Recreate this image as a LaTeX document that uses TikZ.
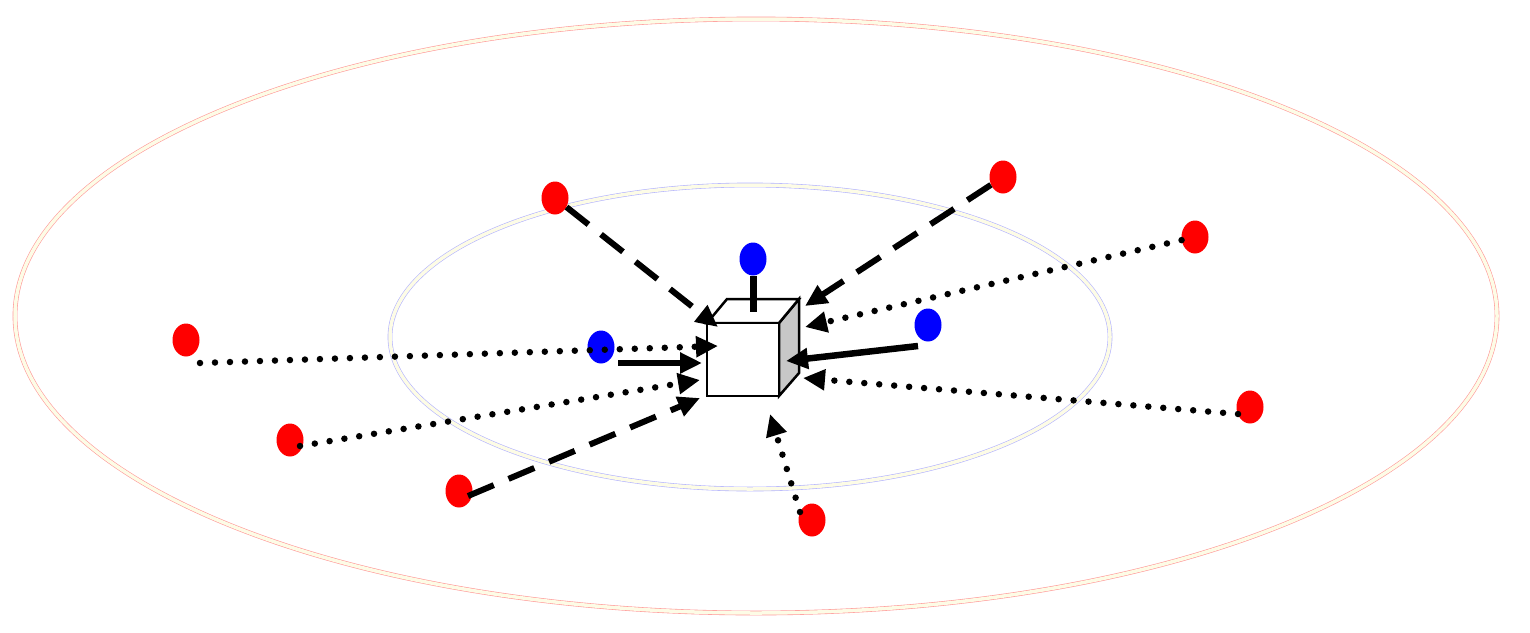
\documentclass[tikz,border=0pt]{standalone}
\usetikzlibrary{arrows.meta,shapes.geometric}
\begin{document}
\begin{tikzpicture}[x=1pt,y=-1pt,
  red dot/.style={ellipse,fill=red,minimum width=27pt,minimum height=33pt,inner sep=0pt},
  blue dot/.style={ellipse,fill=blue,minimum width=27pt,minimum height=33pt,inner sep=0pt},
  tip/.style={-{Triangle[length=22pt,width=20pt]}},
  dashedarrow/.style={tip,line width=6pt,dash pattern=on 28pt off 16pt},
  dottedarrow/.style={tip,line width=6.5pt,dash pattern=on 0pt off 15pt,line cap=round},
  solidarrow/.style={tip,line width=6.5pt},
  ring/.style={double=black!10!yellow!10,double distance=3.5pt,line width=0.6pt}]
\useasboundingbox (0,0) rectangle (1530,632);
\draw[ring,draw=red!40] (756,316) ellipse [x radius=741,y radius=297];
\draw[ring,draw=blue!30] (750,337) ellipse [x radius=360,y radius=152];
% cube
\draw[line width=2.5pt,fill=black!22] (779,323)--(799,299)--(799,373)--(779,396)--cycle;
\draw[line width=2.5pt,fill=white] (707,323)--(727,299)--(799,299)--(779,323)--cycle;
\node[draw,line width=2.5pt,fill=white,minimum width=72pt,minimum height=73pt,inner sep=0pt] (cube) at (743,359.5) {};
% dots
\node[red dot] (r1) at (555,198) {};
\node[red dot] (r2) at (1003,177) {};
\node[red dot] (r3) at (1195,237) {};
\node[red dot] (r4) at (186,340) {};
\node[red dot] (r5) at (290,440) {};
\node[red dot] (r6) at (459,491) {};
\node[red dot] (r7) at (812,520) {};
\node[red dot] (r8) at (1250,407) {};
\node[blue dot] (b1) at (753,259) {};
\node[blue dot] (b2) at (601,347) {};
\node[blue dot] (b3) at (928,325) {};
% end points
\coordinate (e1) at (718,327);
\coordinate (e2) at (805,306);
\coordinate (e3) at (805,327);
\coordinate (e4) at (718,346);
\coordinate (e5) at (700,380);
\coordinate (e6) at (700,398);
\coordinate (e7) at (770,414);
\coordinate (e8) at (803,378);
\coordinate (e9) at (753,312);
\coordinate (e10) at (702,363);
\coordinate (e11) at (786,361);
\coordinate (s4) at (200,363);
\coordinate (s5) at (300,446);
\coordinate (s6) at (468,496);
\coordinate (s7) at (800,512);
\coordinate (s8) at (1238,414);
\coordinate (s10) at (618,363);
\coordinate (s11) at (918,346);
\draw[dashedarrow] (r1) -- (e1);
\draw[dashedarrow] (r2) -- (e2);
\draw[dottedarrow] (r3) -- (e3);
\draw[dottedarrow] (s4) -- (e4);
\draw[dottedarrow] (s5) -- (e5);
\draw[dashedarrow] (s6) -- (e6);
\draw[dottedarrow] (s7) -- (e7);
\draw[dottedarrow] (s8) -- (e8);
\draw[line width=7pt] (b1) -- (e9);
\draw[solidarrow] (s10) -- (e10);
\draw[solidarrow] (s11) -- (e11);
\end{tikzpicture}
\end{document}
